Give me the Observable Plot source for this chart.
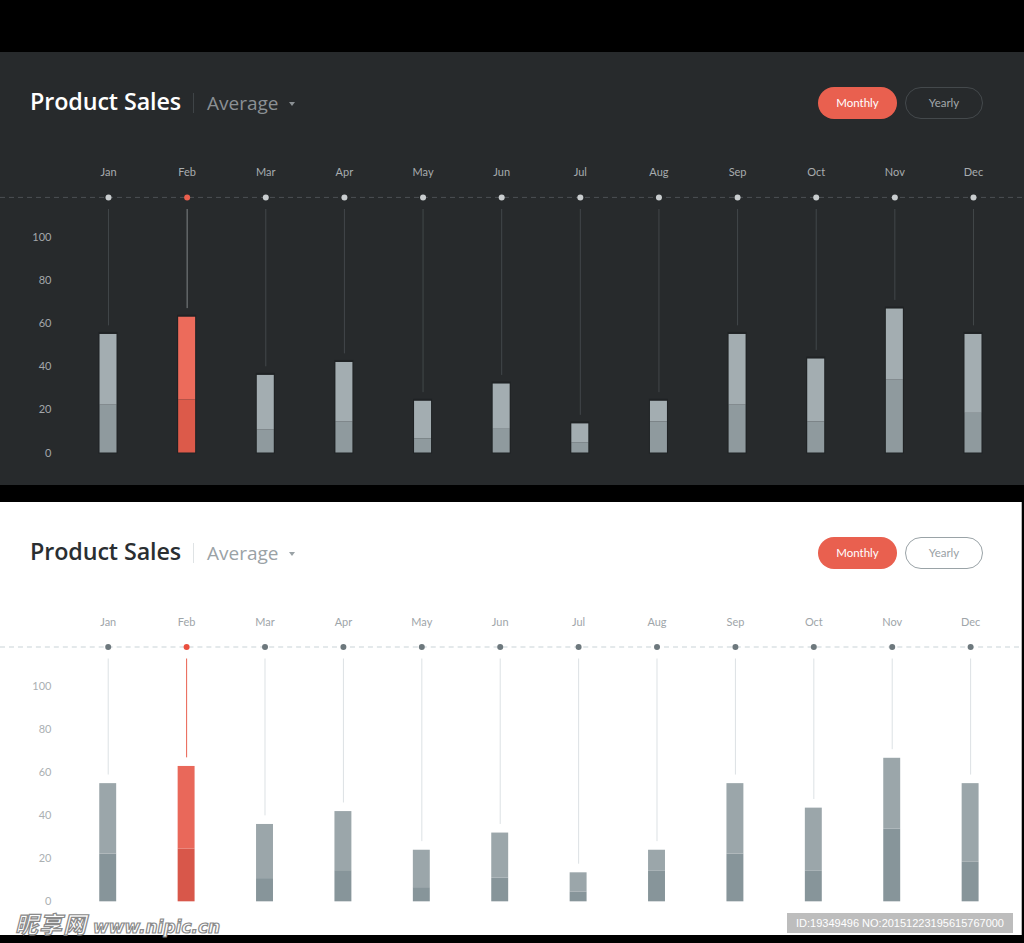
<!DOCTYPE html>
<html>
<head>
<meta charset="utf-8">
<script src="https://cdn.jsdelivr.net/npm/d3@7"></script>
<script src="https://cdn.jsdelivr.net/npm/@observablehq/plot@0.6"></script>
<style>
  html, body { margin:0; padding:0; background:#000; }
  body { width:1024px; height:943px; position:relative; overflow:hidden; font-family: Lato, "Open Sans", sans-serif; }
  .panel { position:absolute; left:0; height:433px; overflow:hidden; }
  .panel svg { position:absolute; left:0; top:0; }
  .title { position:absolute; left:30px; top:34px; font-family:"Open Sans", sans-serif; font-size:23.3px; font-weight:600; line-height:30px; white-space:nowrap; letter-spacing:-0.1px; }
  .sep { position:absolute; left:193px; top:41px; width:1px; height:20px; }
  .avg { position:absolute; left:207px; top:36.5px; font-family:"Open Sans", sans-serif; font-size:19px; line-height:28px; white-space:nowrap; }
  .caret { position:absolute; left:289px; top:50px; width:0; height:0; border-left:3.5px solid transparent; border-right:3.5px solid transparent; }
  .btn { position:absolute; top:35px; height:32px; border-radius:16px; box-sizing:border-box; font-size:11.5px; line-height:32px; text-align:center; }
  .monthly { left:818px; width:79px; background:#e9604f; color:#fff; }
  .yearly { left:905px; width:78px; background:transparent; border-width:1.5px; border-style:solid; line-height:29px; }
  .wm1 { position:absolute; left:15px; top:912px; height:22px; font-weight:700; font-style:italic; color:#fff; -webkit-text-stroke:1.2px #8a8a8a; white-space:nowrap; line-height:22px; }
  .wm1 .cjk { font-family:"Noto Sans CJK SC", sans-serif; font-size:23px; letter-spacing:1px; }
  .wm1 .lat { font-family:"DejaVu Sans", sans-serif; font-size:17px; margin-left:6px; }
  .wm2 { position:absolute; left:787px; top:913px; width:226px; height:20px; background:#bdbdbd; color:#fff; font-family:"Liberation Sans", sans-serif; font-size:11px; line-height:20px; text-align:center; white-space:nowrap; }
</style>
</head>
<body>
<div id="dark" class="panel" style="top:52px; width:1024px; background:#272a2c;"></div>
<div id="light" class="panel" style="top:502px; width:1021px; background:#ffffff; border-right:1px solid #b8b8b8;"></div>
<div class="wm1"><span class="cjk">昵享网</span><span class="lat">www.nipic.cn</span></div>
<div class="wm2">ID:19349496 NO:20151223195615767000</div>
<script>
const months = ["Jan","Feb","Mar","Apr","May","Jun","Jul","Aug","Sep","Oct","Nov","Dec"];
const totals = [55, 63, 36, 42, 24, 32, 13.5, 24, 55, 43.6, 66.8, 55];
const bases  = [22.2, 24.6, 10.8, 14.5, 6.6, 11, 4.6, 14.4, 22.2, 14.4, 33.8, 18.4];
const yTicks = [0, 20, 40, 60, 80, 100];
const highlight = "Feb";
const titleText = "Product Sales";
const filterText = "Average";
const buttons = ["Monthly", "Yearly"];

const themes = {
  dark: {
    title:"#ffffff", sep:"#3f4447", avg:"#8b9094", caret:"#8b9094",
    yearlyBorder:"#44494c", yearlyText:"#a3a8ab",
    yLabel:"#a3a7aa", month:"#a8acaf", dash:"#4b5053",
    whisker:"#42474a", whiskerHi:"#7e8386",
    dot:"#c9cdcf", dotHi:"#ea5f4e",
    shadow:"#1f2224",
    outer:"#a3adb1", inner:"#8f9a9e", outerHi:"#ec6b5b", innerHi:"#dc5a4a"
  },
  light: {
    title:"#2a2e31", sep:"#dfe3e5", avg:"#9aa2a6", caret:"#9aa2a6",
    yearlyBorder:"#9aa3a7", yearlyText:"#9aa1a5",
    yLabel:"#abb0b3", month:"#9ea5a9", dash:"#c9d3d7",
    whisker:"#dce1e4", whiskerHi:"#e9604f",
    dot:"#6d787d", dotHi:"#ea4f3e",
    shadow:null,
    outer:"#9ba6aa", inner:"#87959a", outerHi:"#e9685a", innerHi:"#d8574a"
  }
};

function chart(t) {
  const rows = months.map((m, i) => ({month: m, total: totals[i], base: bases[i]}));
  const hiRows = rows.filter(d => d.month === highlight);
  const loRows = rows.filter(d => d.month !== highlight);
  return Plot.plot({
    width: 1024, height: 433,
    marginTop: 185, marginBottom: 32.5, marginLeft: 68.7, marginRight: 11.7,
    style: {background: "transparent", color: t.yLabel, fontFamily: "Lato, 'Open Sans', sans-serif", fontSize: "11px"},
    x: {type: "band", domain: months, paddingInner: 0.784, paddingOuter: 0.392, round: false, axis: null},
    y: {domain: [0, 100], label: null},
    marks: [
      Plot.ruleY([118.6], {stroke: t.dash, strokeDasharray: "5,4", insetLeft: -68.7, insetRight: -11.7}),
      Plot.axisY({ticks: yTicks, tickSize: 0, tickPadding: 17.7, fontSize: 11, tickFormat: d => String(d), label: null}),
      Plot.text(months, {x: d => d, y: 130.2, text: d => d, fill: t.month, fontSize: 11}),
      Plot.ruleX(loRows, {x: "month", y1: 113, y2: d => d.total + 4, stroke: t.whisker, strokeWidth: 1}),
      Plot.ruleX(hiRows, {x: "month", y1: 113, y2: d => d.total + 4, stroke: t.whiskerHi, strokeWidth: 1}),
      Plot.dot(loRows, {x: "month", y: 118.6, r: 3, fill: t.dot}),
      Plot.dot(hiRows, {x: "month", y: 118.6, r: 3, fill: t.dotHi}),
      ...(t.shadow ? [Plot.barY(rows, {x: "month", y1: 0, y2: "total", fill: t.shadow, insetLeft: -1, insetRight: -1, insetTop: -2, insetBottom: -1})] : []),
      Plot.barY(loRows, {x: "month", y1: 0, y2: "base", fill: t.inner}),
      Plot.barY(loRows, {x: "month", y1: "base", y2: "total", fill: t.outer}),
      Plot.barY(hiRows, {x: "month", y1: 0, y2: "base", fill: t.innerHi}),
      Plot.barY(hiRows, {x: "month", y1: "base", y2: "total", fill: t.outerHi})
    ]
  });
}

function header(el, t) {
  const mk = (cls, text, css) => {
    const d = document.createElement("div");
    d.className = cls;
    if (text) d.textContent = text;
    Object.assign(d.style, css || {});
    el.appendChild(d);
    return d;
  };
  mk("title", titleText, {color: t.title});
  mk("sep", "", {background: t.sep});
  mk("avg", filterText, {color: t.avg});
  mk("caret", "", {borderTop: "4px solid " + t.caret});
  mk("btn monthly", buttons[0]);
  mk("btn yearly", buttons[1], {borderColor: t.yearlyBorder, color: t.yearlyText});
}

for (const key of ["dark", "light"]) {
  const el = document.getElementById(key);
  el.appendChild(chart(themes[key]));
  header(el, themes[key]);
}
</script>
</body>
</html>
